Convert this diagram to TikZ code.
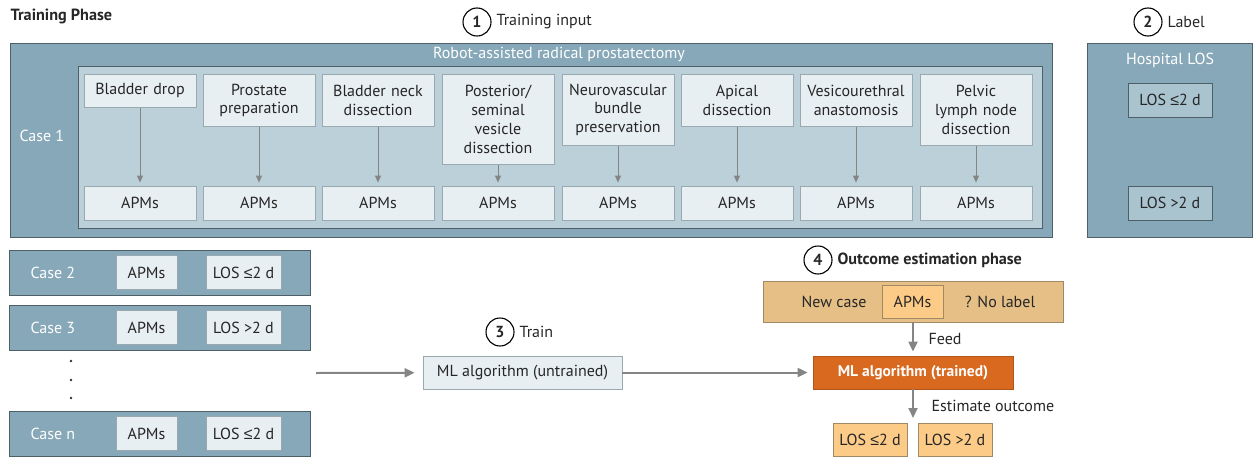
\documentclass[tikz,border=0pt]{standalone}
\usepackage{fontspec}
\setmainfont{PT Sans}
\newfontfamily\symf{Liberation Sans}
\newcommand{\lefs}{{\symf ≤}}
\usetikzlibrary{arrows.meta}
\definecolor{steel}{HTML}{87A8B8}
\definecolor{innerc}{HTML}{BCD0DA}
\definecolor{pale}{HTML}{E8EFF3}
\definecolor{darkb}{HTML}{4F5F67}
\definecolor{lightb}{HTML}{9AA9B0}
\definecolor{arrowg}{HTML}{858585}
\definecolor{tanc}{HTML}{E5BF86}
\definecolor{peach}{HTML}{FDCB88}
\definecolor{orng}{HTML}{D9691F}
\definecolor{orngb}{HTML}{B0561A}
\definecolor{brownb}{HTML}{A08A66}
\definecolor{labbox}{HTML}{A9C3CF}
\begin{document}
\begin{tikzpicture}[x=1pt,y=-1pt,
  every node/.style={font=\fontsize{16}{18.7}\selectfont, text=black!85},
  panel/.style={draw=darkb, fill=steel, line width=1pt, inner sep=0pt},
  stepbox/.style={draw=lightb, fill=pale, line width=0.8pt, minimum width=112pt, text width=108pt, align=center, inner sep=0pt, anchor=north},
  apmbox/.style={draw=lightb, fill=pale, line width=0.8pt, minimum width=112pt, minimum height=34pt, inner sep=0pt},
  smallbox/.style={draw=lightb, fill=pale, line width=0.8pt, minimum height=34pt, inner sep=0pt},
  labelbox/.style={draw=darkb, fill=labbox, line width=0.8pt, minimum width=84pt, minimum height=34pt, inner sep=0pt},
  outbox/.style={draw=brownb, fill=peach, line width=0.8pt, minimum width=74pt, minimum height=33pt, inner sep=0pt},
  numcirc/.style={draw=black, circle, line width=1.1pt, minimum size=28pt, inner sep=0pt, font=\fontsize{16}{18}\selectfont\bfseries},
  whitetext/.style={text=white},
  boldtitle/.style={font=\fontsize{16.2}{18}\selectfont\bfseries},
  conn/.style={draw=arrowg, line width=1pt, -{Triangle[width=6pt,length=7pt]}, shorten >=3pt},
  mainarrow/.style={draw=arrowg, line width=2pt, -{Triangle[width=9pt,length=10pt]}}
]
\useasboundingbox (0,0) rectangle (1256,458);

% titles
\node[anchor=west, boldtitle] (title) at (7,16) {Training Phase};
\node[numcirc] (c1) at (477,22) {1};
\node[anchor=west] (t1) at (493,22) {Training input};
\node[numcirc] (c2) at (1148,22) {2};
\node[anchor=west] (t2) at (1164,22) {Label};

% case 1 panel
\node[panel, minimum width=1042pt, minimum height=194pt, anchor=north west] (case1) at (10,43) {};
\node[draw=darkb, fill=innerc, line width=1pt, minimum width=964pt, minimum height=162pt, anchor=north west, inner sep=0pt] (inner) at (78,66) {};
\node[whitetext] (rarp) at (559,54) {Robot-assisted radical prostatectomy};
\node[whitetext, anchor=west] (case1lab) at (16,136) {Case 1};

\node[stepbox, minimum height=33pt] (s1) at (140,74) {Bladder drop};
\node[stepbox, minimum height=52pt] (s2) at (259,74) {Prostate\\preparation};
\node[stepbox, minimum height=52pt] (s3) at (378,74) {Bladder neck\\dissection};
\node[stepbox, minimum height=90pt] (s4) at (498,74) {Posterior/\\seminal\\vesicle\\dissection};
\node[stepbox, minimum height=71pt] (s5) at (618,74) {Neurovascular\\bundle\\preservation};
\node[stepbox, minimum height=52pt] (s6) at (737,74) {Apical\\dissection};
\node[stepbox, minimum height=52pt] (s7) at (856,74) {Vesicourethral\\anastomosis};
\node[stepbox, minimum height=71pt] (s8) at (976,74) {Pelvic\\lymph node\\dissection};

\foreach \i/\x in {1/140,2/259,3/378,4/498,5/618,6/737,7/856,8/976}{
  \node[apmbox] (a\i) at (\x,203) {APMs};
  \draw[conn] (s\i) -- (a\i);
}

% label panel
\node[panel, minimum width=165pt, minimum height=194pt, anchor=north west] (labpanel) at (1087,43) {};
\node[whitetext] (hlos) at (1170,60) {Hospital LOS};
\node[labelbox] (l1) at (1170,100) {LOS \lefs2 d};
\node[labelbox] (l2) at (1170,203) {LOS >2 d};

% other cases
\foreach \n/\y/\los in {2/272.5/{LOS \lefs2 d},3/327.5/{LOS >2 d},n/433.5/{LOS \lefs2 d}}{
  \node[panel, minimum width=301pt, minimum height=45pt] (case\n) at (159.5,\y) {};
  \node[whitetext, anchor=west] (case\n lab) at (27,\y) {Case \n};
  \node[smallbox, minimum width=61pt] (case\n apm) at (146.5,\y) {APMs};
  \node[smallbox, minimum width=75pt] (case\n los) at (243.5,\y) {\los};
}
\fill[black!80] (71,361) circle (1.4pt) (71,380) circle (1.4pt) (71,398) circle (1.4pt);

% training
\coordinate (src) at (316,373);
\node[numcirc] (c3) at (500,332) {3};
\node[anchor=west] (t3) at (516,332) {Train};
\node[draw=lightb, fill=pale, line width=0.8pt, minimum width=199pt, minimum height=33pt, inner sep=0pt] (mlu) at (522.5,372.5) {ML algorithm (untrained)};
\node[draw=orngb, fill=orng, line width=0.8pt, minimum width=200pt, minimum height=33pt, inner sep=0pt, text=white, font=\fontsize{15.5}{18}\selectfont\bfseries] (mlt) at (913,372.5) {ML algorithm (trained)};
\draw[mainarrow, shorten >=8pt] (src) -- (mlu);
\draw[mainarrow, shorten >=5pt] (mlu) -- (mlt);

% outcome estimation
\node[numcirc] (c4) at (818,260) {4};
\node[anchor=west, boldtitle] (t4) at (834,260) {Outcome estimation phase};
\node[draw=brownb, fill=tanc, line width=0.8pt, minimum width=300pt, minimum height=41pt, inner sep=0pt] (newcase) at (913,301.5) {};
\node (nclab) at (834,302) {New case};
\node[outbox, minimum width=61pt] (ncapm) at (912.5,301.5) {APMs};
\node (nolab) at (1000,302) {? No label};
\draw[mainarrow, shorten >=4pt] (newcase) -- (mlt);
\node[anchor=west] (feed) at (925,339) {Feed};
\coordinate (outc) at (913,423);
\draw[mainarrow, shorten >=5pt] (mlt) -- (outc);
\node[anchor=west] (est) at (928,406) {Estimate outcome};
\node[outbox] (o1) at (870,439.5) {LOS \lefs2 d};
\node[outbox] (o2) at (955,439.5) {LOS >2 d};
\end{tikzpicture}
\end{document}
